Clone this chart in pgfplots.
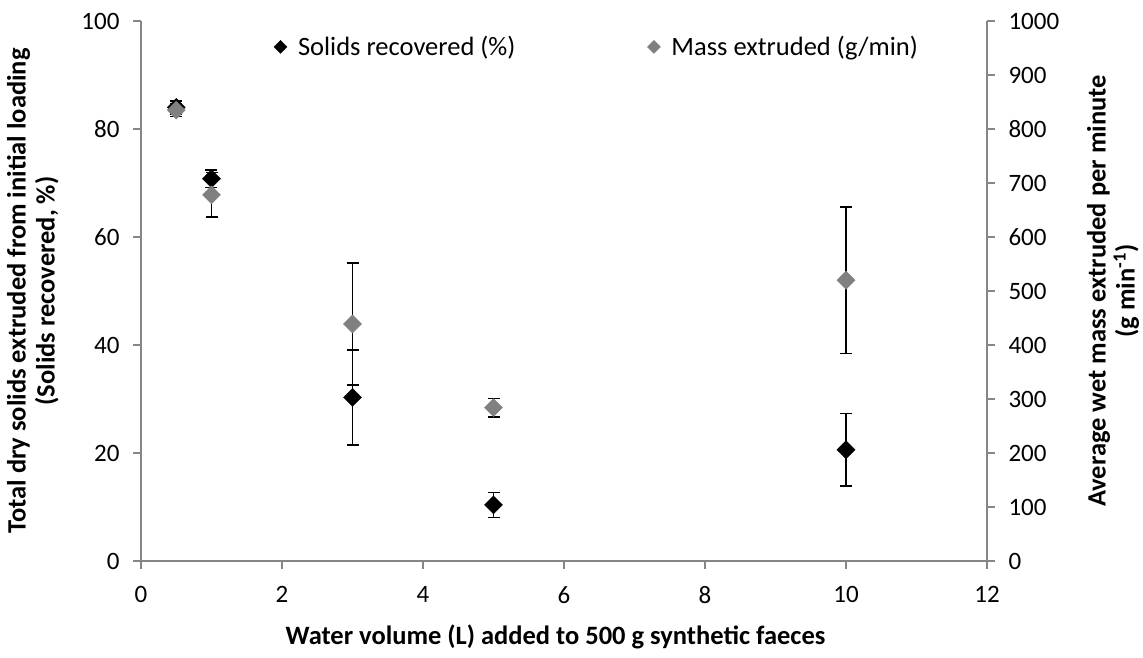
\documentclass[border=0pt]{standalone}
\usepackage{fontspec}
\setmainfont{Carlito}
\usepackage{pgfplots}
\pgfplotsset{compat=1.18}
\definecolor{axgray}{HTML}{868686}
\definecolor{ptgray}{HTML}{808080}
\newcommand{\fs}{\fontsize{25}{30}\selectfont}
\newcommand{\fl}{\fontsize{26.5}{31}\selectfont}
\newcommand{\ft}{\fontsize{26.5}{29}\selectfont}
\pgfplotstableread{
x y e
0.5 84 1.2
1 70.8 1.6
3 30.3 8.8
5 10.4 2.3
10 20.6 6.7
}\solids
\pgfplotstableread{
x y e
0.5 835 12
1 678 41
3 439 113
5 284 17
10 520 136
}\mass
\begin{document}
\begin{tikzpicture}
\pgfplotsset{
  base/.style={
    scale only axis, width=846pt, height=540pt,
    xmin=0, xmax=12,
    axis line style={draw=axgray, line width=1.5pt, -},
    major tick style={draw=axgray, line width=1.5pt},
    major tick length=8pt,
    tick align=outside,
    ticklabel style={font=\fs},
    /pgf/number format/assume math mode=true,
    /pgf/number format/1000 sep={},
    error bars/error bar style={black, line width=1.5pt},
    error bars/error mark options={rotate=90, black, mark size=6pt, line width=1.5pt},
  }
}
\begin{axis}[base,
  axis x line*=bottom, axis y line*=left,
  ymin=0, ymax=100, ytick={0,20,...,100},
  xtick={0,2,...,12},
  yticklabel style={xshift=-10pt},
  xticklabel style={yshift=-14pt},
  xlabel={Water volume (L) added to 500 g synthetic faeces},
  ylabel={Total dry solids extruded from initial loading\\(Solids recovered, \%)},
  every axis x label/.style={at={(axis description cs:0.49,-0.141)}, anchor=center, font=\ft\bfseries},
  every axis y label/.style={at={(axis description cs:-0.128,0.5)}, rotate=90, anchor=center, font=\ft\bfseries, align=center},
]
\coordinate (O) at (rel axis cs:0,0);
\addplot[only marks, mark=square*, black, mark size=6.4pt, mark options={rotate=45},
  error bars/.cd, y dir=both, y explicit]
  table[x=x, y=y, y error=e] {\solids};
\end{axis}
\begin{axis}[base,
  axis y line*=right, axis x line=none,
  ymin=0, ymax=1000, ytick={0,100,...,1000},
  yticklabel style={xshift=10pt},
  ylabel={Average wet mass extruded per minute\\(g min\textsuperscript{-1})},
  every axis y label/.style={at={(axis description cs:1.149,0.5)}, rotate=90, anchor=center, font=\ft\bfseries, align=center},
  legend style={draw=none, fill=none, font=\fl, at={(0.539,0.952)}, anchor=center,
    /tikz/every odd column/.append style={column sep=9pt},
    /tikz/every even column/.append style={column sep=130pt}},
  legend columns=2,
]
\addlegendimage{only marks, mark=square*, black, mark size=4.6pt, mark options={rotate=45}}
\addlegendentry{Solids recovered (\%)}
\addplot[only marks, mark=square*, ptgray, mark size=6.4pt, mark options={rotate=45},
  legend image post style={mark size=4.6pt},
  error bars/.cd, y dir=both, y explicit]
  table[x=x, y=y, y error=e] {\mass};
\addlegendentry{Mass extruded (g/min)}
\end{axis}
\pgfresetboundingbox
\path[use as bounding box] (O) ++(-141pt,-96pt) rectangle ++(1143pt,657pt);
\end{tikzpicture}
\end{document}
